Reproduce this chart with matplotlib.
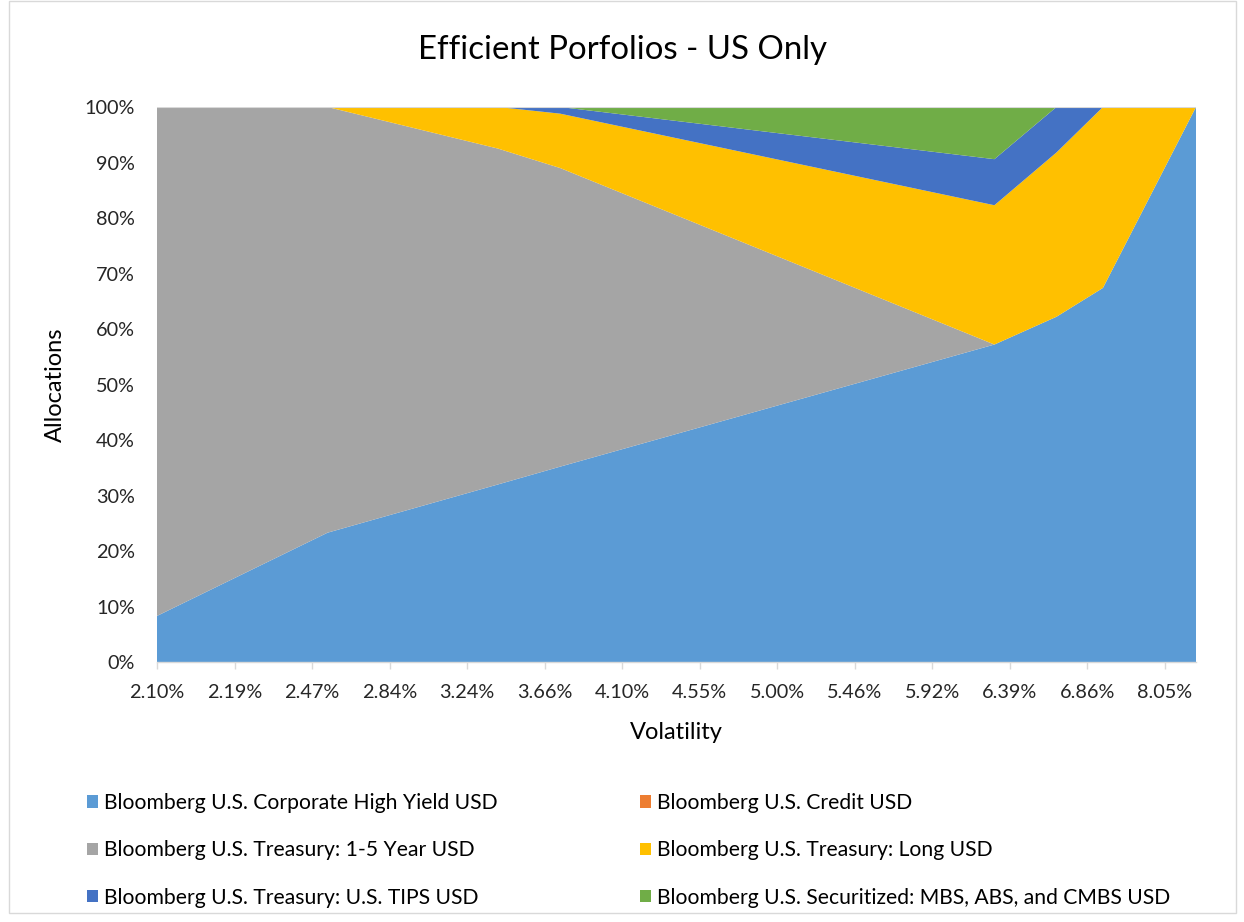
import matplotlib
matplotlib.use("Agg")
import matplotlib.pyplot as plt
from matplotlib.patches import Patch, Rectangle

plt.rcParams['font.family'] = ['Lato', 'DejaVu Sans']

# ---- data -------------------------------------------------------------
title = "Efficient Porfolios - US Only"
x_label = "Volatility"
y_label = "Allocations"

# category axis: 68 efficient portfolios, one volatility label every 5th
n_categories = 68
label_every = 5
vol_labels = ["2.10%", "2.19%", "2.47%", "2.84%", "3.24%", "3.66%", "4.10%",
              "4.55%", "5.00%", "5.46%", "5.92%", "6.39%", "6.86%", "8.05%"]

# corner portfolios (category index) and allocations (%)
portfolio_idx = [0, 11, 22, 26, 54, 58, 61, 67]
high_yield   = [8.3, 23.3, 32.0, 35.2, 57.2, 62.2, 67.4, 100.0]
credit       = [0.0, 0.0, 0.0, 0.0, 0.0, 0.0, 0.0, 0.0]
treasury_1_5 = [91.7, 76.7, 60.5, 53.8, 0.0, 0.0, 0.0, 0.0]
treasury_long = [0.0, 0.0, 7.5, 9.8, 25.1, 29.6, 32.6, 0.0]
tips         = [0.0, 0.0, 0.0, 1.2, 8.3, 8.2, 0.0, 0.0]
securitized  = [0.0, 0.0, 0.0, 0.0, 9.4, 0.0, 0.0, 0.0]

series_names = ["Bloomberg U.S. Corporate High Yield USD",
                "Bloomberg U.S. Credit USD",
                "Bloomberg U.S. Treasury: 1-5 Year USD",
                "Bloomberg U.S. Treasury: Long USD",
                "Bloomberg U.S. Treasury: U.S. TIPS USD",
                "Bloomberg U.S. Securitized: MBS, ABS, and CMBS USD"]
series_colors = ["#5B9BD5", "#ED7D31", "#A5A5A5", "#FFC000", "#4472C4", "#70AD47"]

# ---- figure -------------------------------------------------------------
W, H = 1244, 922
fig = plt.figure(figsize=(W / 100, H / 100), dpi=100)
ax = fig.add_axes([157 / W, 1 - 662 / H, (1196 - 157) / W, (662 - 107) / H])

ax.stackplot(portfolio_idx, high_yield, credit, treasury_1_5, treasury_long,
             tips, securitized, colors=series_colors, linewidth=0)

ax.set_xlim(0, n_categories - 1)
ax.set_ylim(0, 100)

tick_pos = list(range(0, n_categories, label_every))[:len(vol_labels)]
ax.set_xticks(tick_pos)
ax.set_xticklabels(vol_labels, fontsize=14.3, color="#262626")
ax.set_yticks(range(0, 101, 10))
ax.set_yticklabels([f"{v}%" for v in range(0, 101, 10)], fontsize=14.3, color="#262626")

ax.tick_params(axis='x', length=5, width=1, color="#D9D9D9", pad=11)
ax.tick_params(axis='y', length=0, pad=16)

for side in ["top", "right", "left"]:
    ax.spines[side].set_visible(False)
ax.spines["bottom"].set_color("#D9D9D9")
ax.spines["bottom"].set_linewidth(1)
ax.axhline(100, color="#D9D9D9", lw=0.8, zorder=5)

ax.set_xlabel(x_label, fontsize=17, color="#000000", labelpad=15)
ax.set_ylabel(y_label, fontsize=17, color="#000000", labelpad=13)

fig.text(0.5, 1 - 50 / H, title, ha="center", va="center", fontsize=23.8, color="#000000")

# legend: two columns, row-wise order as in Excel
handles = [Patch(facecolor=c, edgecolor='none') for c in series_colors]
left_idx = [0, 2, 4]
right_idx = [1, 3, 5]
common = dict(frameon=False, fontsize=15.2, handlelength=0.5, handleheight=0.5,
              handletextpad=0.3, labelspacing=1.3, borderpad=0, borderaxespad=0,
              loc="upper left")
leg1 = fig.legend([handles[i] for i in left_idx], [series_names[i] for i in left_idx],
                  bbox_to_anchor=(87 / W, 1 - 793 / H), **common)
leg2 = fig.legend([handles[i] for i in right_idx], [series_names[i] for i in right_idx],
                  bbox_to_anchor=(640 / W, 1 - 793 / H), **common)

# chart-area border
fig.patches.append(Rectangle((9 / W, 9 / H), (1236 - 9) / W, (921 - 9) / H,
                             transform=fig.transFigure, fill=False,
                             edgecolor="#D9D9D9", lw=1))

fig.savefig("out.png", dpi=100, facecolor="white")
